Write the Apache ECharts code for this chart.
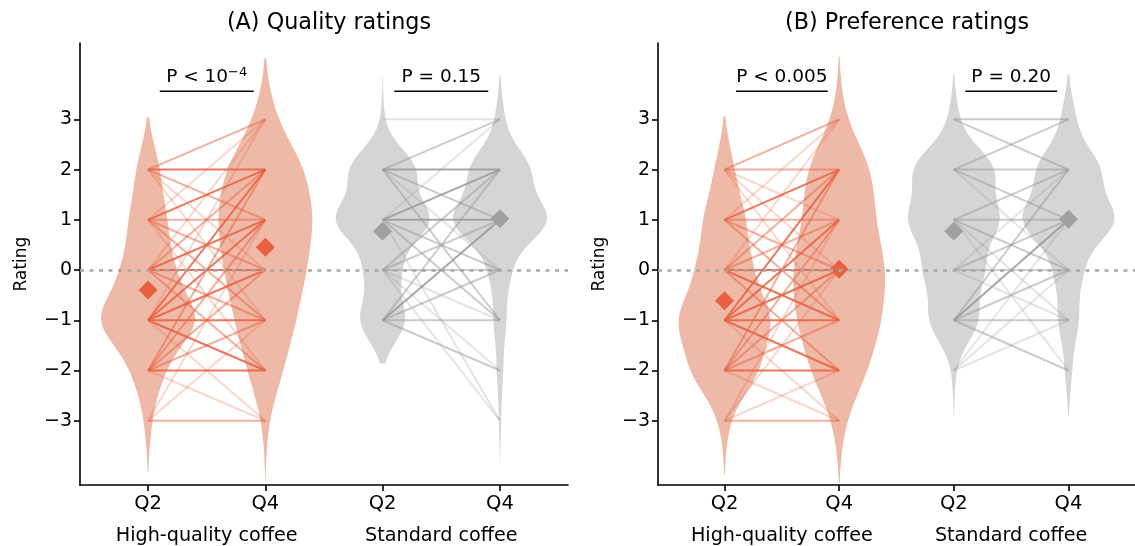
<!DOCTYPE html>
<html><head><meta charset="utf-8">
<script src="https://cdn.jsdelivr.net/npm/echarts@6/dist/echarts.min.js"></script>
<style>html,body{margin:0;padding:0;background:#fff}#c{width:1135px;height:546px}</style>
</head><body><div id="c"></div>
<script>
// ---------------- data ----------------
const ratingLevels = [-3, -2, -1, 0, 1, 2, 3];
const yTickLabels = ['−3', '−2', '−1', '0', '1', '2', '3'];
const xTickLabels = ['Q2', 'Q4', 'Q2', 'Q4'];
const groupLabels = ['High-quality coffee', 'Standard coffee'];
const panelTitles = ['(A) Quality ratings', '(B) Preference ratings'];
// p-value annotation: [main text, superscript]
const pLabels = [['P < 10', '−4'], ['P = 0.15', ''], ['P < 0.005', ''], ['P = 0.20', '']];

// number of participants giving each rating (index matches ratingLevels)
const qualityHighQ2 = [2, 9, 31, 15, 11, 7, 0];
const qualityHighQ4 = [1, 7, 12, 16, 19, 16, 4];
const qualityStdQ2  = [0, 0, 19, 14, 39, 27, 1];
const qualityStdQ4  = [1, 3, 6, 10, 47, 29, 4];
const prefHighQ2    = [2, 18, 25, 14, 11, 5, 0];
const prefHighQ4    = [2, 11, 16, 18, 13, 13, 2];
const prefStdQ2     = [0, 1, 17, 20, 31, 28, 3];
const prefStdQ4     = [0, 3, 9, 12, 42, 28, 6];

// paired responses: [Q2 rating, Q4 rating, frequency tier 1-3]
const qualityHighPairs = [
  [2,3,2],[2,2,3],[2,1,2],[2,0,1],[2,-1,1],
  [1,3,1],[1,2,3],[1,1,2],[1,0,2],[1,-1,2],[1,-2,1],
  [0,3,1],[0,2,2],[0,1,3],[0,0,3],[0,-1,2],[0,-2,2],
  [-1,3,1],[-1,2,3],[-1,1,3],[-1,0,3],[-1,-1,3],[-1,-2,3],[-1,-3,1],
  [-2,2,2],[-2,1,2],[-2,0,2],[-2,-1,2],[-2,-2,3],[-2,-3,1],
  [-3,1,1],[-3,-1,1],[-3,-3,2]
];
const qualityStdPairs = [
  [3,3,1],[2,3,2],[2,2,3],[2,1,2],[2,0,1],[2,-1,2],
  [1,3,1],[1,2,3],[1,1,3],[1,0,2],[1,-1,2],[1,-3,1],
  [0,2,2],[0,1,2],[0,0,2],[0,-1,1],[0,-2,1],[0,-3,1],
  [-1,2,2],[-1,1,3],[-1,0,2],[-1,-1,2],[-1,-2,2]
];
const prefHighPairs = [
  [2,3,2],[2,2,2],[2,1,1],[2,0,1],[2,-1,1],
  [1,3,1],[1,2,3],[1,1,2],[1,0,2],[1,-1,2],
  [0,3,1],[0,2,2],[0,1,2],[0,0,3],[0,-1,3],[0,-2,2],
  [-1,2,3],[-1,1,3],[-1,0,3],[-1,-1,3],[-1,-2,3],[-1,-3,1],
  [-2,2,2],[-2,1,2],[-2,0,2],[-2,-1,2],[-2,-2,3],[-2,-3,1],
  [-3,1,1],[-3,0,1],[-3,-2,1],[-3,-3,2]
];
const prefStdPairs = [
  [3,3,2],[3,2,2],[2,3,2],[2,2,2],[2,1,2],[2,0,1],
  [1,2,2],[1,1,2],[1,0,2],[1,-1,1],[1,-2,1],
  [0,2,1],[0,1,2],[0,0,2],[0,-1,1],
  [-1,2,2],[-1,1,3],[-1,0,2],[-1,-1,2],[-1,-2,2],
  [-2,1,1],[-2,0,1],[-2,-1,1]
];

// ---------------- styling ----------------
const FONT = '"DejaVu Sans", "Noto Sans", sans-serif';
const HQ_FILL = '#EEB9A7', HQ_LINE = '#E8603F', HQ_MEAN = '#E8603F';
const ST_FILL = '#D5D5D5', ST_LINE = '#999999', ST_MEAN = '#A0A0A0';
const tierOpacity = [0, 0.25, 0.5, 0.85];

// ---------------- helpers ----------------
function violinShape(counts) {
  let n = 0, s = 0, s2 = 0, lo = Infinity, hi = -Infinity;
  counts.forEach((c, i) => {
    const v = ratingLevels[i];
    if (c > 0) { n += c; s += c * v; s2 += c * v * v; lo = Math.min(lo, v); hi = Math.max(hi, v); }
  });
  const mean = s / n;
  const variance = (s2 - n * mean * mean) / (n - 1);
  const bw = Math.sqrt(variance) * Math.pow(n, -0.2); // Scott's rule
  const y0 = lo - 2 * bw, y1 = hi + 2 * bw, N = 160;
  const pts = [];
  for (let k = 0; k <= N; k++) {
    const y = y0 + (y1 - y0) * k / N;
    let d = 0;
    counts.forEach((c, i) => { const z = (y - ratingLevels[i]) / bw; d += c * Math.exp(-0.5 * z * z); });
    pts.push([y, d]);
  }
  const m = Math.max(...pts.map(p => p[1]));
  return { mean, pts: pts.map(p => [p[0], 0.4 * p[1] / m]) };
}

const panels = [
  { violins: [qualityHighQ2, qualityHighQ4, qualityStdQ2, qualityStdQ4], pairs: [qualityHighPairs, qualityStdPairs] },
  { violins: [prefHighQ2, prefHighQ4, prefStdQ2, prefStdQ4], pairs: [prefHighPairs, prefStdPairs] }
];

const XMIN = -0.58, XMAX = 3.58, YMIN = -4.28, YMAX = 4.52;
const grids = [], xAxes = [], yAxes = [], series = [], titles = [];
const gridLefts = [80, 658];

panels.forEach((panel, pi) => {
  grids.push({ left: gridLefts[pi], top: 43, width: 488, height: 442, containLabel: false });
  titles.push({ text: panelTitles[pi], left: gridLefts[pi] + 244, top: 7, textAlign: 'center',
    textStyle: { fontFamily: FONT, fontSize: 22.3, fontWeight: 'normal', color: '#000' } });
  xAxes.push({
    type: 'value', gridIndex: pi, min: XMIN, max: XMAX, position: 'bottom',
    axisLine: { show: true, onZero: false, lineStyle: { color: '#000', width: 1.6 } },
    axisTick: { show: true, length: 6, lineStyle: { width: 1.6, color: '#000' }, customValues: [0, 1, 2, 3] },
    axisLabel: { customValues: [0, 1, 2, 3], formatter: v => xTickLabels[Math.round(v)], margin: 9,
      fontFamily: FONT, fontSize: 19.5, color: '#000' },
    splitLine: { show: false }
  });
  xAxes.push({
    type: 'value', gridIndex: pi, min: XMIN, max: XMAX, position: 'bottom', offset: 35,
    axisLine: { show: false }, axisTick: { show: false },
    axisLabel: { customValues: [0.5, 2.5], formatter: v => groupLabels[Math.round((v - 0.5) / 2)], margin: 7,
      fontFamily: FONT, fontSize: 19.2, color: '#000' },
    splitLine: { show: false }
  });
  yAxes.push({
    type: 'value', gridIndex: pi, min: YMIN, max: YMAX,
    name: 'Rating', nameLocation: 'middle', nameGap: 50,
    nameTextStyle: { fontFamily: FONT, fontSize: 17, color: '#000' },
    axisLine: { show: true, onZero: false, lineStyle: { color: '#000', width: 1.6 } },
    axisTick: { show: true, length: 6, lineStyle: { width: 1.6, color: '#000' }, customValues: ratingLevels },
    axisLabel: { customValues: ratingLevels, formatter: v => yTickLabels[ratingLevels.indexOf(Math.round(v))], margin: 8,
      fontFamily: FONT, fontSize: 19, color: '#000' },
    splitLine: { show: false }
  });
  const xi = pi * 2, yi = pi;

  // zero reference line
  series.push({
    type: 'line', xAxisIndex: xi, yAxisIndex: yi, data: [], z: 1, silent: true,
    markLine: { symbol: 'none', silent: true, label: { show: false },
      lineStyle: { color: '#A8A8A8', width: 2.6, type: [4, 5.5] }, data: [{ yAxis: 0 }] }
  });

  // violins
  const shapes = panel.violins.map(violinShape);
  series.push({
    type: 'custom', xAxisIndex: xi, yAxisIndex: yi, z: 2, silent: true,
    data: shapes.map((s, i) => [i]),
    renderItem: (params, api) => {
      const pos = api.value(0);
      const sh = shapes[pos];
      const right = sh.pts.map(p => api.coord([pos + p[1], p[0]]));
      const left = sh.pts.slice().reverse().map(p => api.coord([pos - p[1], p[0]]));
      return { type: 'polygon', shape: { points: right.concat(left) },
        style: { fill: pos < 2 ? HQ_FILL : ST_FILL, stroke: null } };
    }
  });

  // paired lines
  const lineData = [];
  panel.pairs.forEach((pairs, gi) => {
    pairs.forEach(p => lineData.push([gi * 2, p[0], gi * 2 + 1, p[1], p[2]]));
  });
  series.push({
    type: 'custom', xAxisIndex: xi, yAxisIndex: yi, z: 3, silent: true,
    data: lineData,
    renderItem: (params, api) => {
      const a = api.coord([api.value(0), api.value(1)]);
      const b = api.coord([api.value(2), api.value(3)]);
      return { type: 'line', shape: { x1: a[0], y1: a[1], x2: b[0], y2: b[1] },
        style: { stroke: api.value(0) < 2 ? HQ_LINE : ST_LINE, lineWidth: 2, opacity: tierOpacity[api.value(4)] } };
    }
  });

  // means
  series.push({
    type: 'scatter', xAxisIndex: xi, yAxisIndex: yi, z: 4, silent: true,
    symbol: 'diamond', symbolSize: 19,
    data: shapes.map((s, i) => ({ value: [i, s.mean], itemStyle: { color: i < 2 ? HQ_MEAN : ST_MEAN, opacity: 1 } }))
  });

  // significance bars
  series.push({
    type: 'custom', xAxisIndex: xi, yAxisIndex: yi, z: 5, silent: true,
    data: [[0, pi * 2], [2, pi * 2 + 1]],
    renderItem: (params, api) => {
      const g = api.value(0), li = api.value(1);
      const a = api.coord([g + 0.1, 3.56]);
      const b = api.coord([g + 0.9, 3.56]);
      const lab = pLabels[li];
      const txt = lab[1] ? '{m|' + lab[0] + '}{s|' + lab[1] + '}' : '{m|' + lab[0] + '}';
      return { type: 'group', children: [
        { type: 'line', shape: { x1: a[0], y1: a[1], x2: b[0], y2: b[1] }, style: { stroke: '#000', lineWidth: 1.5 } },
        { type: 'text', x: (a[0] + b[0]) / 2, y: a[1] - 3,
          style: { text: txt, align: 'center', verticalAlign: 'bottom',
            rich: { m: { fontFamily: FONT, fontSize: 18.5, lineHeight: 22, fill: '#000' },
                    s: { fontFamily: FONT, fontSize: 13, lineHeight: 22, verticalAlign: 'top', fill: '#000' } } } }
      ] };
    }
  });
});

const chart = echarts.init(document.getElementById('c'), null, { renderer: 'canvas' });
chart.setOption({
  backgroundColor: '#fff', animation: false,
  title: titles, grid: grids, xAxis: xAxes, yAxis: yAxes, series: series
});
</script></body></html>
